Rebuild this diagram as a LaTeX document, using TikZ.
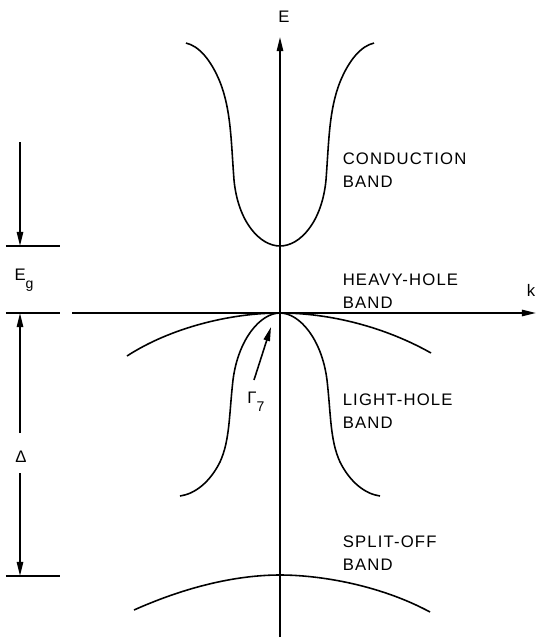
\documentclass[tikz,border=0pt]{standalone}
\usepackage{fontspec}
\setmainfont{Liberation Sans}
\newfontfamily\bandfont[LetterSpace=7]{Liberation Sans}
\usetikzlibrary{arrows.meta,positioning}
\begin{document}
\begin{tikzpicture}[x=0.02cm, y=-0.02cm, line width=0.9pt,
  axis/.style={-{Triangle[length=8pt, width=3.6pt]}},
  band/.style={line width=0.9pt},
  bandlabel/.style={anchor=west, align=left, font=\bandfont\fontsize{9.5}{13}\selectfont, inner sep=0pt},
  sidelabel/.style={font=\fontsize{9.5}{11}\selectfont, inner sep=1pt}]
\useasboundingbox (0,0) rectangle (537,640);
% axes
\coordinate (eBot) at (280,637);
\coordinate (eTop) at (280,37);
\coordinate (kLeft) at (72,313);
\coordinate (kRight) at (536,313);
\draw[axis] (eBot) -- (eTop);
\draw[axis] (kLeft) -- (kRight);
\node[sidelabel] (eLabel) at (284,17) {E};
\node[sidelabel] (kLabel) at (531,290) {k};
% bands
\draw[band] (186,43) .. controls (199,46) and (211,60) .. (220,82) .. controls (231,110) and (231,140) .. (234,180) .. controls (238,222) and (260,246) .. (280,246) .. controls (300,246) and (322,222) .. (326,180) .. controls (329,140) and (329,110) .. (340,82) .. controls (349,60) and (361,46) .. (374,43);
\draw[band] (127,356) .. controls (170,328) and (230,313) .. (280,313) .. controls (330,313) and (385,327) .. (431,353);
\draw[band] (180,496) .. controls (195,494) and (210,482) .. (220,462) .. controls (230,440) and (229,415) .. (233,380) .. controls (238,340) and (260,313) .. (280,313) .. controls (300,313) and (322,340) .. (327,380) .. controls (331,415) and (330,440) .. (340,462) .. controls (350,482) and (365,494) .. (380,496);
\draw[band] (134,610) .. controls (190,585) and (240,575) .. (280,575) .. controls (320,575) and (380,585) .. (430,612);
% band names
\node[bandlabel] (cbName) at (342,170) {CONDUCTION\\BAND};
\node[bandlabel] (hhName) at (342,291) {HEAVY-HOLE\\BAND};
\node[bandlabel] (lhName) at (342,411) {LIGHT-HOLE\\BAND};
\node[bandlabel] (soName) at (342,553) {SPLIT-OFF\\BAND};
% gamma 7
\node[sidelabel] (gamma) at (256,402) {Γ\raisebox{-0.9ex}{\footnotesize 7}};
\coordinate (gammaTail) at (254,380);
\coordinate (gammaTip) at (271,327);
\draw[axis] (gammaTail) -- (gammaTip);
% energy gaps at left
\coordinate (cbLevelL) at (6,246);  \coordinate (cbLevelR) at (60,246);
\coordinate (vbLevelL) at (6,313);  \coordinate (vbLevelR) at (60,313);
\coordinate (soLevelL) at (6,576);  \coordinate (soLevelR) at (60,576);
\draw (cbLevelL) -- (cbLevelR);
\draw (vbLevelL) -- (vbLevelR);
\draw (soLevelL) -- (soLevelR);
\node[sidelabel] (egLabel) at (24,280) {E\raisebox{-0.9ex}{\footnotesize g}};
\node[sidelabel] (deltaLabel) at (21,457) {Δ};
\coordinate (egStart) at (20,142);
\coordinate (deltaUp) at (20,433);
\coordinate (deltaDown) at (20,473);
\draw[axis] (egStart) -- (cbLevelL -| egStart);
\draw[axis] (deltaUp) -- (vbLevelL -| deltaUp);
\draw[axis] (deltaDown) -- (soLevelL -| deltaDown);
\end{tikzpicture}
\end{document}
